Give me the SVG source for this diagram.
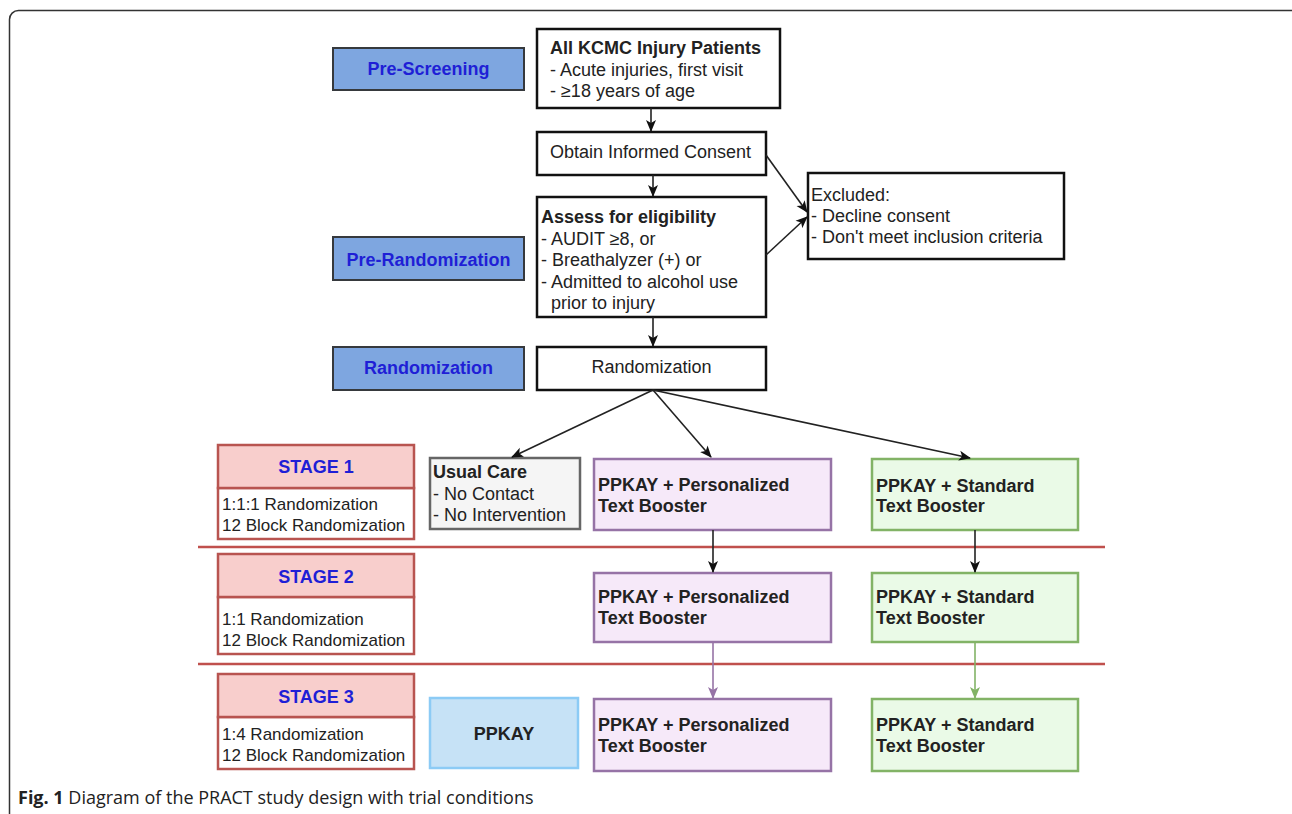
<svg xmlns="http://www.w3.org/2000/svg" width="1292" height="814" viewBox="0 0 1292 814">
<style>
text{font-family:"Liberation Sans",Arial,sans-serif;fill:#222;font-size:18px}
.b{font-weight:bold}
.lab rect{fill:#7ea6e0;stroke:#36393d;stroke-width:2}
.lab text{fill:#1f1fd6;font-weight:bold;text-anchor:middle}
.blk{fill:#fff;stroke:#111;stroke-width:2.5}
.hd{fill:#f8cecc;stroke:#b85450;stroke-width:2.5}
.bd{fill:#fff;stroke:#b85450;stroke-width:2.5}
.st{fill:#1f1fd6;font-weight:bold;text-anchor:middle}
.sm{font-size:17px}
.pu{fill:#f6e9f9;stroke:#9673a6;stroke-width:2.5}
.gr{fill:#eafae7;stroke:#82b366;stroke-width:2.5}
.cn{fill:none;stroke:#222;stroke-width:1.6}
.sep{stroke:#c0504d;stroke-width:2.5}
</style>
<defs>
<marker id="ak" markerWidth="12" markerHeight="12" viewBox="0 0 12 12" refX="11" refY="6" orient="auto" markerUnits="userSpaceOnUse"><path d="M0,1 L12,6 L0,11 L3,6 z" fill="#111"/></marker>
<marker id="ap" markerWidth="12" markerHeight="12" viewBox="0 0 12 12" refX="11" refY="6" orient="auto" markerUnits="userSpaceOnUse"><path d="M0,1 L12,6 L0,11 L3,6 z" fill="#9673a6"/></marker>
<marker id="ag" markerWidth="12" markerHeight="12" viewBox="0 0 12 12" refX="11" refY="6" orient="auto" markerUnits="userSpaceOnUse"><path d="M0,1 L12,6 L0,11 L3,6 z" fill="#82b366"/></marker>
</defs>
<rect width="1292" height="814" fill="#fff"/>
<rect x="9.5" y="10.5" width="1300" height="840" rx="9" fill="none" stroke="#333" stroke-width="1.5"/>

<g id="separators">
<line class="sep" x1="198" y1="547" x2="1105" y2="547"/>
<line class="sep" x1="198" y1="664" x2="1105" y2="664"/>
</g>

<g id="label-prescreening" class="lab"><rect x="333" y="48" width="191" height="42"/><text x="428.5" y="75">Pre-Screening</text></g>
<g id="label-prerandomization" class="lab"><rect x="333" y="237" width="191" height="43"/><text x="428.5" y="266">Pre-Randomization</text></g>
<g id="label-randomization" class="lab"><rect x="333" y="347" width="191" height="43"/><text x="428.5" y="374">Randomization</text></g>

<g id="all-patients"><rect class="blk" x="537" y="29" width="243" height="79"/>
<text x="550" y="54" class="b">All KCMC Injury Patients</text>
<text x="550" y="76">- Acute injuries, first visit</text>
<text x="550" y="97">- ≥18 years of age</text></g>

<g id="consent"><rect class="blk" x="537" y="132" width="229" height="43"/>
<text x="550" y="158" fill="#333">Obtain Informed Consent</text></g>

<g id="assess"><rect class="blk" x="537" y="197" width="229" height="120"/>
<text x="541" y="223" class="b">Assess for eligibility</text>
<text x="541" y="245">- AUDIT ≥8, or</text>
<text x="541" y="266">- Breathalyzer (+) or</text>
<text x="541" y="288">- Admitted to alcohol use</text>
<text x="551" y="309">prior to injury</text></g>

<g id="excluded"><rect class="blk" x="808" y="173" width="256" height="86"/>
<text x="811" y="201">Excluded:</text>
<text x="811" y="222">- Decline consent</text>
<text x="811" y="243">- Don't meet inclusion criteria</text></g>

<g id="randomization"><rect class="blk" x="537" y="347" width="229" height="43"/>
<text x="651.5" y="373" text-anchor="middle" fill="#333">Randomization</text></g>

<g id="stage1"><rect class="bd" x="218" y="488" width="196" height="51"/><rect class="hd" x="218" y="445" width="196" height="43"/>
<text class="st" x="316" y="473">STAGE 1</text>
<text class="sm" x="222" y="510">1:1:1 Randomization</text>
<text class="sm" x="222" y="531">12 Block Randomization</text></g>

<g id="stage2"><rect class="bd" x="218" y="597" width="196" height="57"/><rect class="hd" x="218" y="554" width="196" height="43"/>
<text class="st" x="316" y="583">STAGE 2</text>
<text class="sm" x="222" y="625">1:1 Randomization</text>
<text class="sm" x="222" y="646">12 Block Randomization</text></g>

<g id="stage3"><rect class="bd" x="218" y="717" width="196" height="52"/><rect class="hd" x="218" y="674" width="196" height="43"/>
<text class="st" x="316" y="703">STAGE 3</text>
<text class="sm" x="222" y="740">1:4 Randomization</text>
<text class="sm" x="222" y="761">12 Block Randomization</text></g>

<g id="usual-care"><rect x="430" y="458" width="150" height="71" fill="#f5f5f5" stroke="#666" stroke-width="2.5"/>
<text x="433" y="478" class="b">Usual Care</text>
<text x="433" y="500">- No Contact</text>
<text x="433" y="521">- No Intervention</text></g>

<g id="personalized-1"><rect class="pu" x="594" y="459" width="237" height="71"/>
<text x="598" y="491" class="b">PPKAY + Personalized</text><text x="598" y="512" class="b">Text Booster</text></g>
<g id="standard-1"><rect class="gr" x="872" y="459" width="206" height="71"/>
<text x="876" y="492" class="b">PPKAY + Standard</text><text x="876" y="512" class="b">Text Booster</text></g>

<g id="personalized-2"><rect class="pu" x="594" y="573" width="237" height="69"/>
<text x="598" y="603" class="b">PPKAY + Personalized</text><text x="598" y="624" class="b">Text Booster</text></g>
<g id="standard-2"><rect class="gr" x="872" y="573" width="206" height="69"/>
<text x="876" y="603" class="b">PPKAY + Standard</text><text x="876" y="624" class="b">Text Booster</text></g>

<g id="ppkay"><rect x="430" y="698" width="148" height="70" fill="#c6e2f6" stroke="#8ccbf5" stroke-width="2.5"/>
<text x="504" y="740" class="b" text-anchor="middle">PPKAY</text></g>
<g id="personalized-3"><rect class="pu" x="594" y="699" width="237" height="72"/>
<text x="598" y="731" class="b">PPKAY + Personalized</text><text x="598" y="752" class="b">Text Booster</text></g>
<g id="standard-3"><rect class="gr" x="872" y="699" width="206" height="72"/>
<text x="876" y="731" class="b">PPKAY + Standard</text><text x="876" y="752" class="b">Text Booster</text></g>

<g id="connectors">
<line class="cn" x1="651" y1="108" x2="651" y2="131" marker-end="url(#ak)"/>
<line class="cn" x1="653" y1="175" x2="653" y2="196" marker-end="url(#ak)"/>
<line class="cn" x1="766" y1="155" x2="807" y2="212" marker-end="url(#ak)"/>
<line class="cn" x1="766" y1="255" x2="807" y2="217" marker-end="url(#ak)"/>
<line class="cn" x1="653" y1="317" x2="653" y2="346" marker-end="url(#ak)"/>
<line class="cn" x1="653" y1="390" x2="512" y2="457" marker-end="url(#ak)"/>
<line class="cn" x1="653" y1="390" x2="711" y2="457" marker-end="url(#ak)"/>
<line class="cn" x1="653" y1="390" x2="970" y2="458" marker-end="url(#ak)"/>
<line class="cn" x1="713" y1="530" x2="713" y2="572" marker-end="url(#ak)"/>
<line class="cn" x1="975" y1="530" x2="975" y2="572" marker-end="url(#ak)"/>
<line x1="713" y1="642" x2="713" y2="698" stroke="#9673a6" stroke-width="1.6" marker-end="url(#ap)"/>
<line x1="975" y1="642" x2="975" y2="698" stroke="#82b366" stroke-width="1.6" marker-end="url(#ag)"/>
</g>

<text x="18" y="804" style="font-family:'Open Sans','Noto Sans',sans-serif;font-size:18px;fill:#222"><tspan font-weight="bold">Fig. 1</tspan> Diagram of the PRACT study design with trial conditions</text>
</svg>
